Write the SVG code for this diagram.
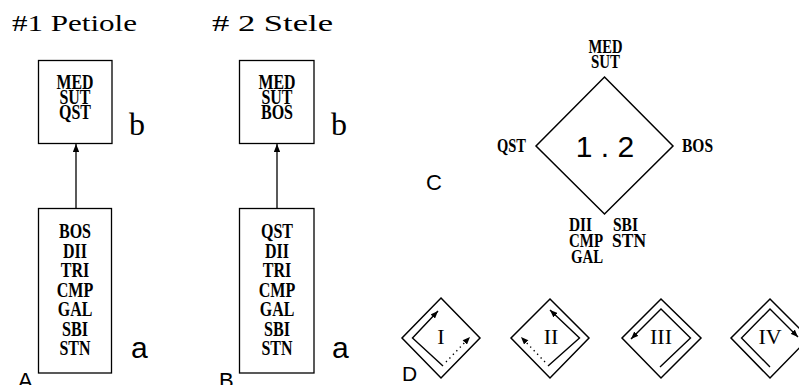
<svg xmlns="http://www.w3.org/2000/svg" width="799" height="385" viewBox="0 0 799 385">
<style>
.bg{fill:#fff}
.box{fill:none;stroke:#000;stroke-width:1.3}
.dia{fill:none;stroke:#000;stroke-width:1.5;stroke-linejoin:miter}
.flow{fill:none;stroke:#000;stroke-width:1.4}
.dot{fill:none;stroke:#000;stroke-width:1.4;stroke-dasharray:1.3 3.7}
.conn{fill:none;stroke:#000;stroke-width:1.3}
.t{font-family:"Liberation Serif",serif;font-weight:bold;font-size:20px;text-anchor:middle;fill:#000}
.c{font-family:"Liberation Serif",serif;font-weight:bold;font-size:18px;fill:#000}
.title{font-family:"Liberation Serif",serif;font-size:24px;fill:#000}
.big{font-family:"Liberation Sans",sans-serif;font-size:30px;fill:#000}
.bs{font-family:"Liberation Serif",serif;font-size:32px;fill:#000}
.cap{font-family:"Liberation Sans",sans-serif;font-size:22px;fill:#000}
.rn{font-family:"Liberation Serif",serif;font-size:22px;text-anchor:middle;fill:#000}
</style>
<defs>
<marker id="ah" viewBox="0 0 10 8" refX="10" refY="4" markerWidth="8" markerHeight="6.4" orient="auto" markerUnits="userSpaceOnUse"><path d="M0,0 L10,4 L0,8 z" fill="#000"/></marker>
<marker id="ahs" viewBox="0 0 10 8" refX="10" refY="4" markerWidth="8" markerHeight="6" orient="auto" markerUnits="userSpaceOnUse"><path d="M0,0 L10,4 L0,8 z" fill="#000"/></marker>
</defs>
<rect class="bg" x="0" y="0" width="799" height="385"/>

<text class="title" x="12" y="31" textLength="125" lengthAdjust="spacingAndGlyphs">#1 Petiole</text>
<text class="title" x="212" y="31" textLength="121" lengthAdjust="spacingAndGlyphs"># 2 Stele</text>

<g id="A-b">
<rect class="box" x="38.5" y="60.5" width="73.5" height="83"/>
<text class="t" x="75" y="89" textLength="37" lengthAdjust="spacingAndGlyphs">MED</text>
<text class="t" x="75" y="104" textLength="31" lengthAdjust="spacingAndGlyphs">SUT</text>
<text class="t" x="75" y="119" textLength="32" lengthAdjust="spacingAndGlyphs">QST</text>
</g>
<g id="A-a">
<rect class="box" x="38.5" y="208.5" width="73" height="164.5"/>
<text class="t" x="75" y="238" textLength="32" lengthAdjust="spacingAndGlyphs">BOS</text>
<text class="t" x="75" y="257.5" textLength="24" lengthAdjust="spacingAndGlyphs">DII</text>
<text class="t" x="75" y="277" textLength="28.5" lengthAdjust="spacingAndGlyphs">TRI</text>
<text class="t" x="75" y="296.5" textLength="36.5" lengthAdjust="spacingAndGlyphs">CMP</text>
<text class="t" x="75" y="316" textLength="34.5" lengthAdjust="spacingAndGlyphs">GAL</text>
<text class="t" x="75" y="335.5" textLength="26" lengthAdjust="spacingAndGlyphs">SBI</text>
<text class="t" x="75" y="355" textLength="31" lengthAdjust="spacingAndGlyphs">STN</text>
</g>
<g id="B-b">
<rect class="box" x="239.5" y="60.5" width="74.5" height="83"/>
<text class="t" x="277" y="89" textLength="37" lengthAdjust="spacingAndGlyphs">MED</text>
<text class="t" x="277" y="104" textLength="31" lengthAdjust="spacingAndGlyphs">SUT</text>
<text class="t" x="277" y="119" textLength="32" lengthAdjust="spacingAndGlyphs">BOS</text>
</g>
<g id="B-a">
<rect class="box" x="239.5" y="208.5" width="74.5" height="164.5"/>
<text class="t" x="277" y="238" textLength="32" lengthAdjust="spacingAndGlyphs">QST</text>
<text class="t" x="277" y="257.5" textLength="24" lengthAdjust="spacingAndGlyphs">DII</text>
<text class="t" x="277" y="277" textLength="28.5" lengthAdjust="spacingAndGlyphs">TRI</text>
<text class="t" x="277" y="296.5" textLength="36.5" lengthAdjust="spacingAndGlyphs">CMP</text>
<text class="t" x="277" y="316" textLength="34.5" lengthAdjust="spacingAndGlyphs">GAL</text>
<text class="t" x="277" y="335.5" textLength="26" lengthAdjust="spacingAndGlyphs">SBI</text>
<text class="t" x="277" y="355" textLength="31" lengthAdjust="spacingAndGlyphs">STN</text>
</g>

<g id="connectors">
<line class="conn" x1="76" y1="208.5" x2="76" y2="144" marker-end="url(#ah)"/>
<line class="conn" x1="277" y1="208.5" x2="277" y2="144" marker-end="url(#ah)"/>
</g>

<text class="bs" x="129" y="135">b</text>
<text class="bs" x="331" y="135">b</text>
<text class="big" x="131" y="358">a</text>
<text class="big" x="332" y="358">a</text>
<text class="cap" x="18" y="388">A</text>
<text class="cap" x="219" y="388">B</text>

<g id="C">
<polygon class="dia" points="604.5,77 673,146 604.5,214 536,146"/>
<text class="big" x="605" y="157" text-anchor="middle">1 . 2</text>
<text class="c" x="605.5" y="53" text-anchor="middle" textLength="34" lengthAdjust="spacingAndGlyphs">MED</text>
<text class="c" x="605.5" y="68" text-anchor="middle" textLength="29" lengthAdjust="spacingAndGlyphs">SUT</text>
<text class="c" x="497" y="152" textLength="29" lengthAdjust="spacingAndGlyphs">QST</text>
<text class="c" x="682" y="152" textLength="31" lengthAdjust="spacingAndGlyphs">BOS</text>
<text class="c" x="569" y="231" textLength="23" lengthAdjust="spacingAndGlyphs">DII</text>
<text class="c" x="569" y="247" textLength="34" lengthAdjust="spacingAndGlyphs">CMP</text>
<text class="c" x="571" y="263" textLength="32" lengthAdjust="spacingAndGlyphs">GAL</text>
<text class="c" x="613" y="231" textLength="25" lengthAdjust="spacingAndGlyphs">SBI</text>
<text class="c" x="612" y="247" textLength="34" lengthAdjust="spacingAndGlyphs">STN</text>
</g>
<text class="cap" x="426" y="190">C</text>

<g id="D-I">
<polygon class="dia" points="441,298 480,338 441,378 402,338"/>
<path class="flow" d="M443,366 L412.5,338 L438,311" marker-end="url(#ahs)"/>
<path class="dot" d="M446,362 L470,337" marker-end="url(#ahs)"/>
<text class="rn" x="441" y="344">I</text>
</g>
<g id="D-II">
<polygon class="dia" points="550,299 589,338 550,378 511,338"/>
<path class="flow" d="M548,366 L579.5,338 L550,310" marker-end="url(#ahs)"/>
<path class="dot" d="M545,362 L521,337" marker-end="url(#ahs)"/>
<text class="rn" x="551" y="344">II</text>
</g>
<g id="D-III">
<polygon class="dia" points="661,299 701,338 661,378 622,338"/>
<path class="flow" d="M660,367 L690.5,338 L661,309 L631,339" marker-end="url(#ahs)"/>
<text class="rn" x="661" y="344">III</text>
</g>
<g id="D-IV">
<polygon class="dia" points="770,299 809,338 770,378 731,338"/>
<path class="flow" d="M770,367 L741.5,338 L770,309 L798,337" marker-end="url(#ahs)"/>
<text class="rn" x="770" y="344">IV</text>
</g>
<text class="cap" x="402" y="381" style="font-size:21px">D</text>
</svg>
